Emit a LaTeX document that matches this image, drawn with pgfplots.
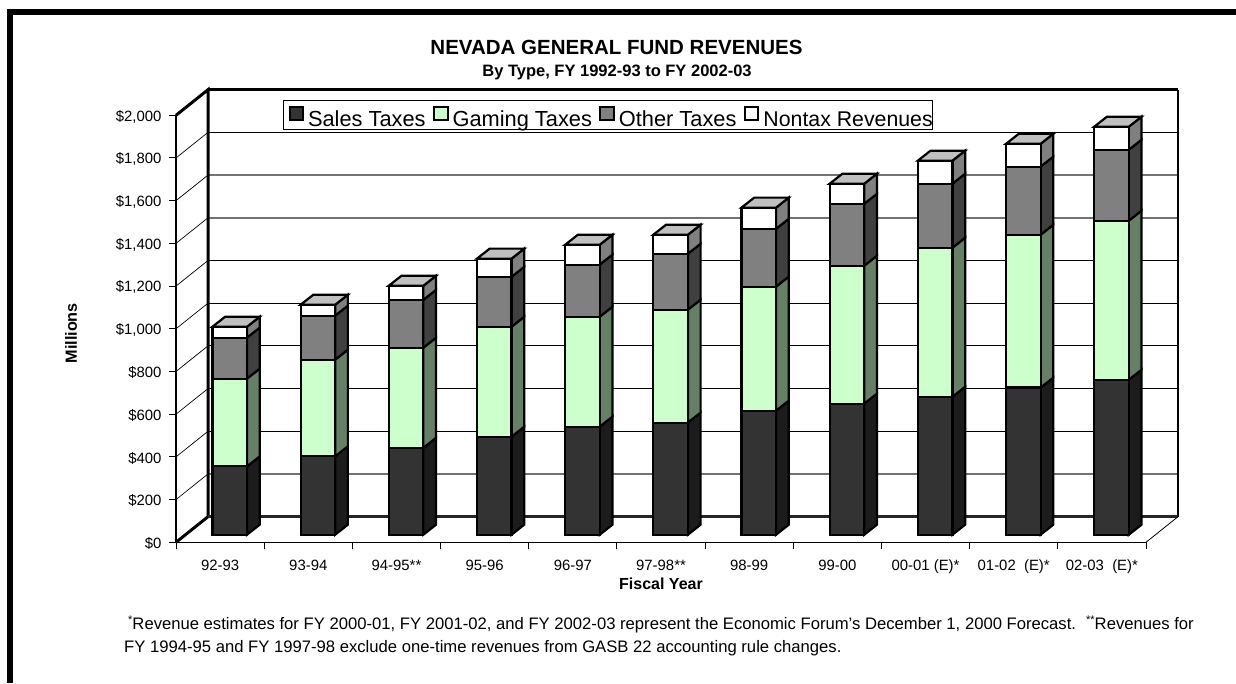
\documentclass[border=0pt]{standalone}
\usepackage{pgfplots}
\usepackage{pgfplotstable}
\usepackage{fontspec}
\setmainfont{Liberation Sans}
\pgfplotsset{compat=1.18}

% Revenues by type, millions of dollars
\pgfplotstableread{
idx year sales gaming other nontax
0 92-93 320 411 192 51
1 93-94 367 453 206 51
2 94-95 407 469 224 66
3 95-96 459 515 234 85
4 96-97 506 515 244 93
5 97-98 525 529 262 89
6 98-99 581 581 271 99
7 99-00 614 646 290 94
8 00-01 646 698 300 108
9 01-02 689 716 319 107
10 02-03 726 745 332 108
}\revenues

\definecolor{salesfront}{HTML}{333333}
\definecolor{salesside}{HTML}{1C1C1C}
\definecolor{gamingfront}{HTML}{CCFFCC}
\definecolor{gamingside}{HTML}{668066}
\definecolor{otherfront}{HTML}{808080}
\definecolor{otherside}{HTML}{404040}
\definecolor{nontaxfront}{HTML}{FFFFFF}
\definecolor{nontaxside}{HTML}{808080}
\definecolor{roof}{HTML}{C0C0C0}

% Oblique depth of the chart box and of the bars, in axis units
\def\boxdx{0.363}
\def\boxdy{120}
\def\bardx{0.144}
\def\bardy{46.8}
\def\barhalf{0.196}
\def\barshift{0.109}

% Legend text with a fixed line box
\newcommand{\legtext}[1]{\raisebox{0pt}[25.2pt][3.8pt]{#1}}

\pgfplotsset{
  chartbox/.style={
    width=970pt, height=427pt, scale only axis,
    at={(176pt,140.7pt)}, anchor=south west, clip=false,
  },
  face/.style={draw=black, line width=2.2pt, miter limit=4, mark=none, #1},
}

% Side face of one bar segment: index, lower value, upper value, colour
\newcommand{\barside}[4]{%
  \pgfmathsetmacro{\xa}{#1+0.5+\barhalf}%
  \pgfmathsetmacro{\xb}{\xa+\bardx}%
  \pgfmathsetmacro{\ya}{#2+\bardy}%
  \pgfmathsetmacro{\yb}{#3+\bardy}%
  \edef\plotcmd{\noexpand\addplot[face={fill=#4}] coordinates
    {(\xa,#2)(\xb,\ya)(\xb,\yb)(\xa,#3)} -- cycle;}%
  \plotcmd
}
% Roof of one bar: index, total
\newcommand{\barroof}[2]{%
  \pgfmathsetmacro{\xa}{#1+0.5-\barhalf}%
  \pgfmathsetmacro{\xb}{#1+0.5+\barhalf}%
  \pgfmathsetmacro{\xc}{\xa+\bardx}%
  \pgfmathsetmacro{\xd}{\xb+\bardx}%
  \pgfmathsetmacro{\ya}{#2+\bardy}%
  \edef\plotcmd{\noexpand\addplot[face={fill=roof}] coordinates
    {(\xa,#2)(\xb,#2)(\xd,\ya)(\xc,\ya)} -- cycle;}%
  \plotcmd
}
% Gridline on the back wall with its diagonal on the side wall
\newcommand{\wallgrid}[2]{%
  \pgfmathsetmacro{\yb}{#1+\boxdy}%
  \edef\plotcmd{\noexpand\addplot[#2, mark=none] coordinates
    {(\boxdx,\yb)(11.363,\yb)};
    \noexpand\addplot[black, line width=0.7pt, mark=none] coordinates
    {(0,#1)(\boxdx,\yb)};}%
  \plotcmd
}

\begin{document}
\begin{tikzpicture}[x=1pt,y=1pt]
\path[use as bounding box] (0,0) rectangle (1236,683);

% Page rule along the top and the left edge
\fill[black] (7,0) rectangle (13,674);
\fill[black] (7,668) rectangle (1236,674);

% Box: walls, floor, gridlines, ticks and labels
\begin{axis}[
  chartbox,
  xmin=0, xmax=11, ymin=0, ymax=2000,
  axis x line*=bottom, axis y line*=left,
  axis line style={black, line width=1.3pt, -},
  xtick={0,...,11},
  x tick label as interval,
  xticklabels={92-93,93-94,94-95**,95-96,96-97,97-98**,98-99,99-00,00-01 (E)*,01-02~~(E)*,02-03~~(E)*},
  ytick={0,200,...,2000},
  yticklabel={\$\pgfmathprintnumber{\tick}},
  scaled y ticks=false,
  /pgf/number format/.cd, fixed, precision=0, 1000 sep={,}, assume math mode=true,
  /pgfplots/.cd,
  tick align=outside, major tick length=7pt,
  tick style={black, line width=1pt},
  ticklabel style={font=\fontsize{14.9}{17}\selectfont, text=black},
  yticklabel style={xshift=-4pt, yshift=-1.2pt},
  xticklabel style={yshift=-7pt},
  xlabel={Fiscal Year},
  ylabel={Millions},
  every axis x label/.style={at={(axis description cs:0.5,0)}, anchor=center, yshift=-41pt,
    font=\fontsize{16}{18}\selectfont\bfseries},
  every axis y label/.style={at={(axis description cs:0,0.5)}, anchor=center, rotate=90, yshift=105pt, xshift=-4.5pt,
    font=\fontsize{16.2}{18}\selectfont\bfseries},
]
  \wallgrid{200}{draw=black!55, line width=1.5pt}
  \wallgrid{400}{black, line width=1pt}
  \wallgrid{600}{black, line width=1pt}
  \wallgrid{800}{black, line width=1pt}
  \wallgrid{1000}{black, line width=1pt}
  \wallgrid{1200}{black, line width=1pt}
  \wallgrid{1400}{draw=black!55, line width=1.5pt}
  \wallgrid{1600}{draw=black!55, line width=1.5pt}
  \wallgrid{1800}{black, line width=1pt}
  % Back wall outline
  \addplot[black, line width=3pt, mark=none] coordinates {(0,2000)(0.363,2120)(0.363,120)(0,0)};
  \addplot[black, line width=3pt, mark=none] coordinates {(0.363,2120)(11.363,2120)};
  \addplot[black, line width=2pt, mark=none] coordinates {(11.363,2120)(11.363,120)};
  \addplot[black!85, line width=2.4pt, mark=none] coordinates {(0.363,120)(11.363,120)};
  \addplot[black, line width=0.8pt, mark=none] coordinates {(11,0)(11.363,120)};
\end{axis}

% Side faces and roofs, one segment per value
\begin{axis}[
  chartbox, hide axis,
  xmin=-0.109, xmax=10.891, ymin=-35.6, ymax=1964.4,
]
  \pgfplotsinvokeforeach{0,...,10}{
    \pgfplotstablegetelem{#1}{sales}\of\revenues \let\vs\pgfplotsretval
    \pgfplotstablegetelem{#1}{gaming}\of\revenues \let\vg\pgfplotsretval
    \pgfplotstablegetelem{#1}{other}\of\revenues \let\vo\pgfplotsretval
    \pgfplotstablegetelem{#1}{nontax}\of\revenues \let\vn\pgfplotsretval
    \pgfmathsetmacro{\ca}{\vs}
    \pgfmathsetmacro{\cb}{\vs+\vg}
    \pgfmathsetmacro{\cc}{\cb+\vo}
    \pgfmathsetmacro{\cd}{\cc+\vn}
    \barside{#1}{0}{\ca}{salesside}
    \barside{#1}{\ca}{\cb}{gamingside}
    \barside{#1}{\cb}{\cc}{otherside}
    \barside{#1}{\cc}{\cd}{nontaxside}
    \barroof{#1}{\cd}
  }
\end{axis}

% Front faces of the stacked bars
\begin{axis}[
  chartbox, hide axis,
  xmin=-0.109, xmax=10.891, ymin=-35.6, ymax=1964.4,
  ybar stacked, bar width=0.392, bar shift=0pt,
  legend columns=4,
  legend style={
    anchor=south west, at={(axis cs:1.105,1896.5)},
    draw=black, line width=1pt, fill=white,
    font=\fontsize{21.8}{25}\selectfont,
    inner xsep=5pt, inner ysep=0.5pt,
    nodes={inner ysep=0.5pt},
    /tikz/every even column/.style={column sep=5.5pt},
    /tikz/every odd column/.style={column sep=2pt},
  },
  legend image code/.code={
    \draw[#1, line width=2pt] (0pt,-5.1pt) rectangle (13.5pt,8.3pt);
  },
]
  \addplot[face={fill=salesfront}] table[x expr=\thisrow{idx}+0.5, y=sales] {\revenues};
  \addplot[face={fill=gamingfront}] table[x expr=\thisrow{idx}+0.5, y=gaming] {\revenues};
  \addplot[face={fill=otherfront}] table[x expr=\thisrow{idx}+0.5, y=other] {\revenues};
  \addplot[face={fill=nontaxfront}] table[x expr=\thisrow{idx}+0.5, y=nontax] {\revenues};
  \legend{\legtext{Sales Taxes},\legtext{Gaming Taxes},\legtext{Other Taxes},\legtext{\makebox[162pt][l]{\fontsize{21.3}{25}\selectfont Nontax Revenues}}}
\end{axis}

% Titles and notes
\node[font=\fontsize{20.5}{24}\selectfont\bfseries] at (616.5,636) {NEVADA GENERAL FUND REVENUES};
\node[font=\fontsize{16.5}{20}\selectfont\bfseries] at (617,611) {By Type, FY 1992-93 to FY 2002-03};
\node[anchor=base west, font=\fontsize{16.65}{18}\selectfont, inner sep=0pt] at (128,53.5)
  {\raisebox{6pt}{\fontsize{11}{12}\selectfont *}Revenue estimates for FY 2000-01, FY 2001-02, and FY 2002-03 represent the Economic Forum's December 1, 2000 Forecast.\hspace{10pt}\raisebox{6pt}{\fontsize{11}{12}\selectfont **}Revenues for};
\node[anchor=base west, font=\fontsize{16.65}{18}\selectfont, inner sep=0pt] at (124,31)
  {FY 1994-95 and FY 1997-98 exclude one-time revenues from GASB 22 accounting rule changes.};
\end{tikzpicture}
\end{document}
